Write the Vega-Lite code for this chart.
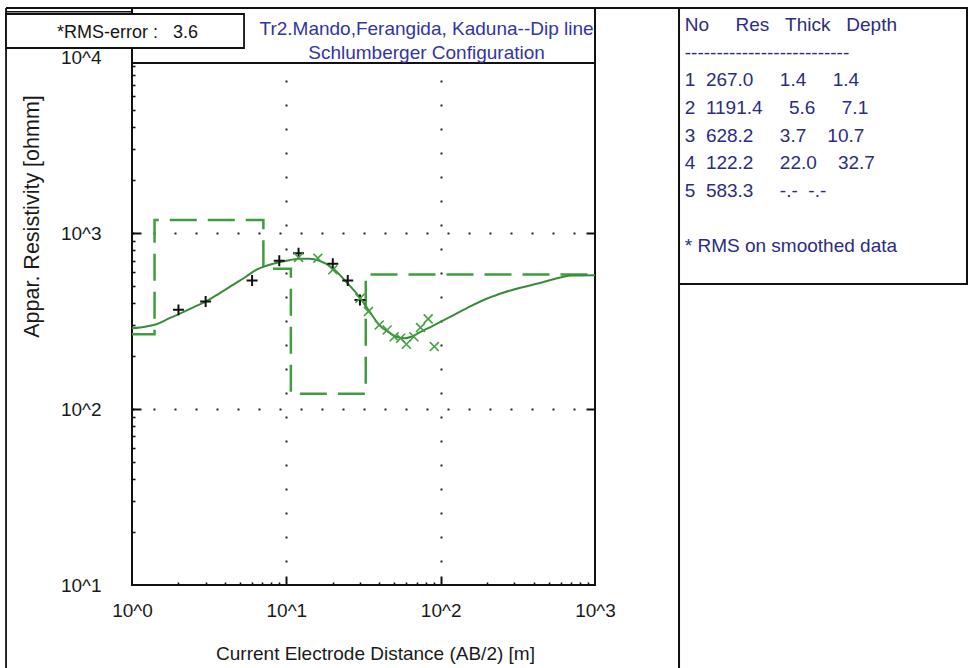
{
  "$schema": "https://vega.github.io/schema/vega-lite/v6.json",
  "background": "white",
  "padding": {"left": 4, "top": 6, "right": 0, "bottom": 0},
  "bounds": "flush",
  "spacing": 84,
  "datasets": {
    "model": [
      {"ab": 1, "rho": 267.0},
      {"ab": 1.4, "rho": 1191.4},
      {"ab": 7.1, "rho": 628.2},
      {"ab": 10.7, "rho": 122.2},
      {"ab": 32.7, "rho": 583.3},
      {"ab": 1000, "rho": 583.3}
    ],
    "curve": [
      {"ab": 1, "rho": 288}, {"ab": 1.24, "rho": 295}, {"ab": 1.44, "rho": 304}, {"ab": 1.75, "rho": 329},
      {"ab": 2, "rho": 346}, {"ab": 2.48, "rho": 378}, {"ab": 3, "rho": 409}, {"ab": 3.69, "rho": 456},
      {"ab": 4.51, "rho": 509}, {"ab": 5.5, "rho": 568}, {"ab": 6.38, "rho": 620}, {"ab": 7.42, "rho": 654},
      {"ab": 8.96, "rho": 685}, {"ab": 10.5, "rho": 703}, {"ab": 12.1, "rho": 717}, {"ab": 14.1, "rho": 717},
      {"ab": 16.4, "rho": 698}, {"ab": 20, "rho": 633}, {"ab": 24.4, "rho": 530}, {"ab": 30.2, "rho": 427},
      {"ab": 34.6, "rho": 359}, {"ab": 40.1, "rho": 301}, {"ab": 45.5, "rho": 276}, {"ab": 51.4, "rho": 258},
      {"ab": 58.3, "rho": 253}, {"ab": 64.5, "rho": 258}, {"ab": 74.6, "rho": 276}, {"ab": 87, "rho": 295},
      {"ab": 111, "rho": 329}, {"ab": 150, "rho": 378}, {"ab": 202, "rho": 427}, {"ab": 260, "rho": 462},
      {"ab": 333, "rho": 492}, {"ab": 426, "rho": 518}, {"ab": 545, "rho": 550}, {"ab": 702, "rho": 575},
      {"ab": 1000, "rho": 578}
    ],
    "field": [
      {"ab": 2, "rho": 367}, {"ab": 3, "rho": 409}, {"ab": 6, "rho": 539}, {"ab": 9, "rho": 698},
      {"ab": 12, "rho": 771}, {"ab": 20, "rho": 671}, {"ab": 25, "rho": 539}, {"ab": 30, "rho": 418}
    ],
    "smoothed": [
      {"ab": 12, "rho": 729}, {"ab": 16, "rho": 722}, {"ab": 20, "rho": 620}, {"ab": 30, "rho": 427},
      {"ab": 34, "rho": 359}, {"ab": 40, "rho": 301}, {"ab": 45, "rho": 282}, {"ab": 50, "rho": 258},
      {"ab": 55, "rho": 253}, {"ab": 60, "rho": 234}, {"ab": 67, "rho": 258}, {"ab": 74, "rho": 291},
      {"ab": 83, "rho": 326}, {"ab": 91, "rho": 227}
    ],
    "table": [
      {"line": 0, "txt": "No\u00a0\u00a0\u00a0\u00a0\u00a0Res\u00a0\u00a0\u00a0Thick\u00a0\u00a0\u00a0Depth"},
      {"line": 1, "txt": "--------------------------"},
      {"line": 2, "txt": "\u00a01\u00a0\u00a0267.0\u00a0\u00a0\u00a0\u00a0\u00a01.4\u00a0\u00a0\u00a0\u00a0\u00a01.4"},
      {"line": 3, "txt": "\u00a02\u00a0\u00a01191.4\u00a0\u00a0\u00a0\u00a0\u00a05.6\u00a0\u00a0\u00a0\u00a0\u00a07.1"},
      {"line": 4, "txt": "\u00a03\u00a0\u00a0628.2\u00a0\u00a0\u00a0\u00a0\u00a03.7\u00a0\u00a0\u00a0\u00a010.7"},
      {"line": 5, "txt": "\u00a04\u00a0\u00a0122.2\u00a0\u00a0\u00a0\u00a0\u00a022.0\u00a0\u00a0\u00a0\u00a032.7"},
      {"line": 6, "txt": "\u00a05\u00a0\u00a0583.3\u00a0\u00a0\u00a0\u00a0\u00a0-.-\u00a0\u00a0-.-"},
      {"line": 8, "txt": "* RMS on smoothed data"}
    ]
  },
  "hconcat": [
    {
      "width": 463,
      "height": 577,
      "resolve": {"axis": {"x": "independent", "y": "independent"}},
      "layer": [
        {
          "data": {"name": "model"},
          "mark": {"type": "line", "interpolate": "step-after", "color": "#3f9d3f", "strokeWidth": 2.5, "strokeDash": [27, 11]},
          "encoding": {
            "x": {"field": "ab", "type": "quantitative", "scale": {"type": "log", "domain": [1, 1000], "nice": false},
              "axis": {"orient": "bottom", "values": [1, 10, 100, 1000], "labelExpr": "'10^' + round(log(datum.value)/LN10)",
                "ticks": false, "domain": false, "labelPadding": 16, "title": "Current Electrode Distance (AB/2) [m]",
                "titleX": 243, "titleY": 68, "titleBaseline": "middle", "titleAlign": "center"}},
            "y": {"field": "rho", "type": "quantitative", "scale": {"type": "log", "domain": [10, 19110], "nice": false},
              "axis": {"orient": "left", "values": [10, 100, 1000, 10000], "labelExpr": "'10^' + round(log(datum.value)/LN10)",
                "ticks": false, "domain": false, "labelPadding": 31, "labelBaseline": "middle", "title": "Appar. Resistivity [ohmm]",
                "titleFontSize": 21.5, "titleX": -100, "titleY": 208, "titleAngle": -90, "titleBaseline": "middle", "titleAlign": "center"}}
          }
        },
        {
          "data": {"name": "curve"},
          "mark": {"type": "line", "interpolate": "monotone", "color": "#3b8a3b", "strokeWidth": 2},
          "encoding": {
            "x": {"field": "ab", "type": "quantitative", "scale": {"type": "log", "domain": [1, 1000], "nice": false},
              "axis": {"orient": "bottom", "values": [2, 3, 4, 5, 6, 7, 8, 9, 10, 20, 30, 40, 50, 60, 70, 80, 90, 100, 200, 300, 400, 500, 600, 700, 800, 900],
                "labels": false, "domain": false, "ticks": true, "tickColor": "#111", "title": null,
                "tickSize": {"condition": {"test": "datum.value == 10 || datum.value == 100", "value": -9}, "value": -3},
                "tickWidth": {"condition": {"test": "datum.value == 10 || datum.value == 100", "value": 2}, "value": 1.6}}},
            "y": {"field": "rho", "type": "quantitative", "scale": {"type": "log", "domain": [10, 19110], "nice": false},
              "axis": {"orient": "left", "values": [20, 30, 40, 50, 60, 70, 80, 90, 100, 200, 300, 400, 500, 600, 700, 800, 900, 1000, 2000, 3000, 4000, 5000, 6000, 7000, 8000, 9000],
                "labels": false, "domain": false, "ticks": true, "tickColor": "#111", "title": null,
                "tickSize": {"condition": {"test": "datum.value == 100 || datum.value == 1000", "value": -9}, "value": -3},
                "tickWidth": {"condition": {"test": "datum.value == 100 || datum.value == 1000", "value": 2}, "value": 1.6}}}
          }
        },
        {
          "data": {"name": "field"},
          "mark": {"type": "point", "shape": "M-1,0L1,0M0,-1L0,1", "size": 120, "filled": false, "stroke": "#111", "strokeWidth": 2, "opacity": 1},
          "encoding": {
            "x": {"field": "ab", "type": "quantitative", "scale": {"type": "log", "domain": [1, 1000], "nice": false},
              "axis": {"orient": "bottom", "values": [10, 100], "grid": true, "gridDash": [2, 22], "gridColor": "#222", "gridWidth": 2,
                "ticks": false, "labels": false, "domain": false, "title": null}},
            "y": {"field": "rho", "type": "quantitative", "scale": {"type": "log", "domain": [10, 19110], "nice": false},
              "axis": {"orient": "left", "values": [100, 1000], "grid": true, "gridDash": [2, 19], "gridColor": "#222", "gridWidth": 2,
                "ticks": false, "labels": false, "domain": false, "title": null}}
          }
        },
        {
          "data": {"name": "smoothed"},
          "mark": {"type": "point", "shape": "M-1,-1L1,1M-1,1L1,-1", "size": 80, "filled": false, "stroke": "#43a043", "strokeWidth": 1.6, "opacity": 1},
          "encoding": {
            "x": {"field": "ab", "type": "quantitative", "scale": {"type": "log", "domain": [1, 1000], "nice": false}, "axis": null},
            "y": {"field": "rho", "type": "quantitative", "scale": {"type": "log", "domain": [10, 19110], "nice": false},
              "axis": {"orient": "right", "values": [100, 1000], "ticks": true, "tickSize": -9, "tickWidth": 2, "tickColor": "#111",
                "labels": false, "domain": false, "title": null}}
          }
        },
        {
          "data": {"values": [{}]},
          "mark": {"type": "rect", "fill": "white", "stroke": "#111", "strokeWidth": 2},
          "encoding": {
            "x": {"datum": 1, "type": "quantitative", "axis": null},
            "x2": {"datum": 1000},
            "y": {"datum": 9300, "type": "quantitative", "axis": null},
            "y2": {"datum": 19110}
          }
        },
        {
          "data": {"values": [{}]},
          "mark": {"type": "rule", "color": "#111", "strokeWidth": 1.8},
          "encoding": {
            "x": {"datum": 0.1527, "type": "quantitative", "axis": null},
            "x2": {"datum": 3503},
            "y": {"datum": 19110, "type": "quantitative", "axis": null}
          }
        },
        {
          "data": {"values": [{}]},
          "mark": {"type": "rule", "color": "#111", "strokeWidth": 1.5},
          "encoding": {
            "x": {"datum": 0.1527, "type": "quantitative", "axis": null},
            "x2": {"datum": 1},
            "y": {"datum": 18200, "type": "quantitative", "axis": null}
          }
        },
        {
          "data": {"values": [{}]},
          "mark": {"type": "rule", "color": "#111", "strokeWidth": 1.8},
          "encoding": {
            "x": {"datum": 0.1527, "type": "quantitative", "axis": null},
            "y": {"datum": 3.37, "type": "quantitative", "axis": null},
            "y2": {"datum": 19110}
          }
        },
        {
          "data": {"values": [{}]},
          "mark": {"type": "rule", "color": "#111", "strokeWidth": 2},
          "encoding": {
            "x": {"datum": 3503, "type": "quantitative", "axis": null},
            "y": {"datum": 3.37, "type": "quantitative", "axis": null},
            "y2": {"datum": 19110}
          }
        },
        {
          "data": {"values": [{}]},
          "mark": {"type": "rect", "fill": "white", "stroke": "#111", "strokeWidth": 1.8},
          "encoding": {
            "x": {"datum": 0.1527, "type": "quantitative", "axis": null},
            "x2": {"datum": 5.32},
            "y": {"datum": 17670, "type": "quantitative", "axis": null},
            "y2": {"datum": 11320}
          }
        },
        {
          "data": {"values": [{}]},
          "mark": {"type": "text", "text": "*RMS-error :\u00a0\u00a0\u00a03.6", "align": "center", "baseline": "middle", "fontSize": 18, "color": "#151515"},
          "encoding": {
            "x": {"datum": 0.935, "type": "quantitative", "axis": null},
            "y": {"datum": 13770, "type": "quantitative", "axis": null}
          }
        },
        {
          "data": {"values": [{}]},
          "mark": {"type": "text", "text": ["Tr2.Mando,Ferangida, Kaduna--Dip line", "Schlumberger Configuration"], "align": "center", "baseline": "alphabetic", "lineHeight": 24.5, "fontSize": 19, "color": "#3434a6"},
          "encoding": {
            "x": {"datum": 81, "type": "quantitative", "axis": null},
            "y": {"datum": 13420, "type": "quantitative", "axis": null}
          }
        }
      ]
    },
    {
      "width": 288,
      "height": 276,
      "data": {"name": "table"},
      "mark": {"type": "text", "align": "left", "baseline": "middle", "fontSize": 19, "color": "#2c2c82"},
      "encoding": {
        "x": {"datum": 0.02, "type": "quantitative", "scale": {"domain": [0, 1]}, "axis": null},
        "y": {"field": "line", "type": "ordinal", "axis": null,
          "scale": {"type": "point", "domain": [0, 1, 2, 3, 4, 5, 6, 7, 8], "padding": 1.2075, "align": 0.3125}},
        "text": {"field": "txt"}
      }
    }
  ],
  "config": {
    "view": {"stroke": "#111", "strokeWidth": 2},
    "text": {"font": "Liberation Sans"},
    "axis": {
      "labelFont": "Liberation Sans", "titleFont": "Liberation Sans",
      "labelFontSize": 19, "titleFontSize": 19, "titleFontWeight": "normal",
      "labelColor": "#1a1a1a", "titleColor": "#1a1a1a",
      "labelFlush": false, "labelOverlap": false, "grid": false
    }
  }
}
